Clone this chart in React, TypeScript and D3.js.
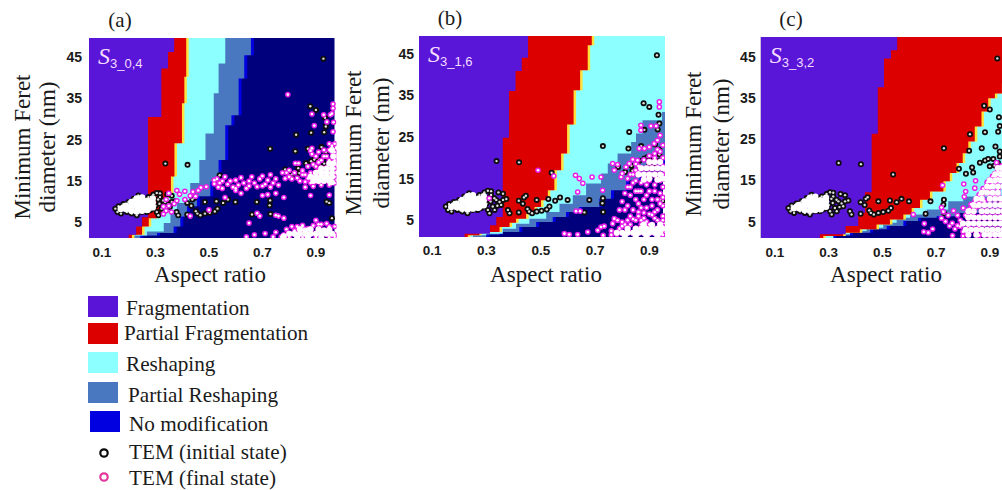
import React from "react";
import * as d3 from "d3";

type P = [number, number];

const C = {
  purple: "#5a14d8", red: "#dc0000", yellow: "#ffe23c", cyan: "#8cffff",
  steel: "#4a78c0", blue: "#0000e0", navy: "#00007c", magenta: "#e81ee8", black: "#0c0c0c",
};
const xTicks = [0.1, 0.3, 0.5, 0.7, 0.9];
const yTicks = [5, 15, 25, 35, 45];

// initial state TEM, shared by all three panels [aspect ratio, nm]
const initialPts: P[] = [
  [.928,44.6],[.337,19.2],[.42,18.9],[.54,16.4],[.729,22.8],[.826,26.2],[.823,22.2],[.879,33.1],[.9,32.2],[.934,30.3],
  [.882,26.7],[.937,28.2],[.931,26.8],[.87,22.8],[.921,23.2],[.937,22],[.785,17.8],[.811,16.6],[.834,18.1],[.838,16.9],
  [.863,19.3],[.882,19.8],[.894,20.2],[.913,20.2],[.937,20.8],[.9,18.4],[.918,18.6],[.931,19.2],[.96,6],[.94,10],[.95,9.7],
  [.679,9.9],[.729,10.3],[.727,9.1],[.661,6.9],[.73,7],[.485,9.9],[.528,10.1],[.553,9.7],[.571,10.5],[.599,9.9],
  [.419,6.9],[.419,9.7],[.434,9],[.438,10.5],[.445,10.9],[.451,7.7],[.457,7.1],[.468,6.7],[.485,7.1],[.503,7.3],[.522,7.6],[.532,8.3],
  [.385,6.7],[.379,7.5],[.373,10.1],[.361,9.9],[.344,11.7],[.361,11.4],[.348,9.4],[.354,8.7],[.336,9.9],[.317,12],[.305,12.1],
  [.292,11.7],[.274,11.1],[.317,11.1],[.329,10.3],[.315,9.5],[.323,8.3],[.311,6.7],[.305,7.5],[.292,8.3],[.274,9.1],[.28,7.9],
  [.286,10.3],[.255,10.7],[.236,11.5],[.218,10.7],[.199,9.9],[.18,9.4],[.162,8.9],[.15,8.3],[.158,7.5],[.171,7.1],[.193,7.5],
  [.211,7.1],[.23,6.7],[.249,7.5],[.267,7.5],[.3,9],[.31,10.5],[.34,8.5],[.33,7.5],
];
const initialCore: P[] = [
  [.17,8.2],[.19,8.2],[.19,9],[.21,7.8],[.21,8.8],[.21,9.9],[.23,7.6],[.23,8.8],[.23,10],[.23,10.8],[.25,7.8],[.25,9],
  [.25,10.2],[.25,11],[.27,8],[.27,9.2],[.27,10.2],[.29,8.6],[.29,9.8],[.29,10.8],[.18,8.6],[.2,8.4],[.22,9.4],[.24,8.4],[.24,9.6],[.26,8.6],[.26,9.8],[.28,9.2],
];

// panel (a): stepped class limits [nm at top of step, aspect ratio]
const aPurple: P[] = [[49.6,.37],[46.2,.347],[42.2,.322],[30.5,.272],[6.2,.25],[4,.228],[2,.2]];
const aRed: P[] = [[49.6,.415],[40.2,.408],[33.8,.399],[24.1,.371],[16.1,.358],[12,.34],[7.2,.306],[6,.275],[4,.25],[2,.212]];
const aCyan: P[] = [[49.6,.561],[43.4,.536],[36.2,.518],[26.5,.487],[20.1,.464],[14.5,.43],[9.7,.38],[7.2,.356],[4.8,.331],[2.8,.268],[1.8,.218]];
const aSteel: P[] = [[49.6,.657],[45.4,.632],[39.8,.611],[30.9,.584],[28.5,.561],[20.1,.536],[14.9,.505],[11.3,.455],[8.9,.418],[6.4,.393],[4,.368],[2.4,.306],[1.8,.243]];
const aFinal: P[] = [
  [.795,35.9],[.964,33.6],[.964,32.6],[.96,31.3],[.885,31.2],[.929,31],[.954,31],[.941,29.3],[.966,29.2],[.894,28.4],[.964,26.9],
  [.823,19.3],[.835,19.3],[.885,21.5],[.885,22.9],[.33,7],[.34,7.8],[.33,8.8],[.35,9],[.36,7.5],[.34,10.5],[.37,9.5],[.38,10.2],
  [.35,12],[.38,12.7],[.39,11.8],[.41,12.5],[.43,11.4],[.44,12.4],[.46,12.7],[.47,13.4],[.45,11.3],[.49,13.6],[.41,10.5],[.43,6.5],[.5,8],
  [.52,14.3],[.53,15.5],[.535,13.5],[.55,15],[.55,13.2],[.56,16],[.57,14.2],[.58,15],[.59,13.5],[.6,15.2],[.61,14],[.62,15.8],[.63,14.5],
  [.64,13.2],[.65,15],[.66,16],[.67,14.5],[.68,13.6],[.69,15.5],[.7,16.2],[.71,14.2],[.72,15.2],[.73,16.5],[.74,14.5],[.75,15.5],[.76,14],
  [.79,17],[.8,16],[.81,15.5],[.82,17],[.83,15.7],[.84,15],[.85,16.5],[.86,14.8],[.87,15.6],[.88,17],[.89,16],[.9,14.8],[.91,17.5],
  [.785,15.6],[.775,17],[.8,17.6],[.54,14.5],[.52,15.2],[.6,13.2],[.65,13.8],[.7,13.8],[.73,13.5],[.86,16.5],[.88,14.5],
  [.56,11],[.6,12.7],[.62,12],[.7,11.5],[.72,11.7],[.75,12],[.78,11],[.88,11.5],[.95,11.6],[.69,6.5],[.68,7.2],[.75,6.7],[.76,6.5],[.78,6],
  [.65,4.8],[.64,1.5],[.67,2],[.71,2.3],[.85,4.3],[.9,5.5],[.91,4.5],[.94,4.7],
  [.97,24],[.97,22],[.97,20],[.97,18],[.97,16],[.97,14.5],[.95,22.5],[.94,21],[.92,20],[.9,21],[.88,22.3],[.96,23.5],[.93,18],[.9,18.5],
  [.85,17.5],[.87,18.5],[.89,19],[.91,19.5],[.93,21],[.95,20],[.95,24],[.96,22],[.93,22.5],[.91,22],[.86,13.5],[.89,13.7],[.92,14],[.95,14],
  [.74,1.5],[.75,2.6],[.77,1.5],[.78,2],[.8,1.4],[.79,3.3],[.81,4],[.82,3],[.83,4],[.85,4],[.87,3.5],[.89,4.2],[.92,4.5],[.95,4],[.97,4],[.97,2],[.97,1.5],[.85,1.4],[.9,1.4],[.95,1.4],
];
const aCore: P[] = [
  [.95,19.2],[.965,19.2],[.92,18],[.94,18],[.96,18],[.9,17],[.92,17],[.94,17],[.96,17],[.88,16],[.9,16],[.92,16],[.94,16],[.96,16],[.89,15],[.91,15],[.93,15],[.95,15],[.965,21],[.96,22.5],[.96,14.7],
  [.84,3.3],[.88,3.3],[.91,3.3],[.95,3.2],[.8,2.2],[.82,2.2],[.84,2.2],[.86,2.2],[.88,2.2],[.9,2.2],[.92,2.2],[.94,2.2],[.96,2.2],[.86,3],[.93,3],[.78,1.6],[.83,1.5],[.87,1.5],[.92,1.5],
];

// panel (b)
const bPurple: P[] = [[49.6,.453],[44,.43],[40.8,.407],[36,.383],[24.8,.36],[5.8,.336],[3.8,.313],[1.8,.219]];
const bRed: P[] = [[49.6,.688],[47,.673],[41,.645],[36.2,.621],[28,.597],[21,.575],[17,.55],[12.2,.526],[9.8,.501],[8.2,.477],[6.6,.446],[5.4,.409],[4.4,.385],[3.4,.348],[2.2,.274],[1.4,.231]];
const bCyan: P[] = [[49.6,.99],[31,.947],[29,.875],[25.8,.851],[23.8,.833],[21,.783],[18.6,.747],[16.2,.722],[13.8,.667],[11,.618],[9,.569],[7,.52],[5.4,.458],[4.2,.409],[3,.36],[1.8,.299],[1.4,.25]];
const bSteel: P[] = [[49.6,.99],[19.4,.947],[17,.863],[14.6,.814],[12.2,.759],[10.2,.716],[8.2,.642],[7,.593],[5.8,.544],[4.6,.483],[3.4,.421],[2.2,.348],[1.6,.299]];
const bFinal: P[] = [
  [.49,17],[.548,15.6],[.628,15.8],[.642,15],[.655,13.9],[.689,15.4],[.722,15.4],[.728,12.2],[.636,11.8],[.63,7.2],[.645,7.2],[.587,1.8],[.605,1.6],[.636,1.6],
  [.673,2.2],[.71,2.6],[.722,3.4],[.734,3.6],[.765,4.2],[.771,5.4],[.783,5],[.8,4.6],[.869,27.8],[.869,26.6],[.906,27.6],[.925,27.6],[.94,25.4],[.937,33.4],[.937,32.2],
  [.93,24.2],[.863,22.2],[.882,22.2],[.9,22.6],[.918,23.4],[.765,18.6],[.783,18.4],[.771,17],[.839,19.6],[.857,19.4],[.826,18.6],[.814,17.8],[.8,16.2],[.796,15.4],[.82,13],
  [.31,10.3],[.83,11],[.8,9.5],[.82,8.5],[.79,7.5],[.81,7.5],[.84,7.5],[.86,9],[.87,12],[.85,10],[.88,10],[.9,12],[.92,12],[.94,11.5],[.95,13],[.89,8],[.91,8.5],[.93,7.5],[.95,8.5],
  [.83,6],[.86,6],[.88,5.5],[.9,6.5],[.92,5.5],[.95,6],[.85,5],[.81,4],[.83,4],[.76,2.5],[.78,1.6],[.79,3],[.73,1.4],[.82,15],[.84,14],[.83,16],[.85,17],[.86,12],
  [.85,14.5],[.87,14],[.89,13.5],[.9,14.5],[.92,13.5],[.94,14.5],[.95,16],[.95,18],[.95,20],[.94,21.5],[.92,21],[.85,18.5],[.84,16],[.95,5],[.95,3.5],[.95,1.5],[.9,4],[.87,4],
  [.83,13],[.81,11.5],[.85,12],[.89,11],[.91,10],[.93,10],[.95,10.5],[.87,8],[.92,7],[.86,7],[.94,9],[.88,6.8],[.82,5],[.84,5.3],[.87,5],[.89,4.7],[.91,6.3],[.93,5],
  [.8,3.6],[.76,1.5],[.92,20],[.9,20.5],[.88,19.5],[.86,18],[.86,16.5],[.93,22],[.95,23],
];
const bCore: P[] = [
  [.9,19],[.92,19],[.94,19],[.87,17.5],[.89,17.5],[.91,17.5],[.93,17.5],[.95,17.5],[.86,16],[.88,16],[.9,16],[.92,16],[.94,16],[.88,14.7],[.9,15],[.93,14.7],[.95,15],
  [.88,4],[.91,3.9],[.94,4],[.82,3],[.85,3],[.87,3],[.89,3],[.91,3],[.93,3],[.95,3],[.78,2],[.8,2],[.82,2],[.84,2],[.86,2],[.88,2],[.9,2],[.92,2],[.94,2],[.81,1.3],[.85,1.3],[.89,1.3],[.93,1.3],
];

// panel (c)
const cPurple: P[] = [[49.8,.555],[46.6,.532],[44.6,.506],[37.6,.483],[26.3,.46],[12.1,.435],[7.1,.41],[3.9,.363],[1.9,.267]];
const cRed: P[] = [[49.8,.99],[38.5,.945],[36.1,.919],[34.9,.894],[31.7,.869],[28.1,.844],[24.4,.82],[21.6,.799],[19.2,.776],[16.8,.751],[14.8,.727],[12.3,.677],[10.3,.64],[8.3,.609],[6.7,.578],[5.5,.528],[4.3,.478],[3.1,.416],[2.3,.354],[1.5,.28]];
const cCyan: P[] = [[49.8,.99],[13,.945],[11.1,.801],[9.9,.745],[7.9,.665],[6.7,.603],[5.9,.553],[4.7,.503],[3.5,.441],[2.7,.379],[1.9,.317]];
const cSteel: P[] = [[49.8,.99],[7.1,.776],[6.3,.702],[5.9,.633],[5.1,.578],[3.9,.516],[3.1,.454],[2.3,.379],[1.6,.317]];
const cFinal: P[] = [
  [.724,13.8],[.803,14.1],[.847,14.9],[.844,13.1],[.81,12.3],[.805,11],[.83,9.2],[.801,8.3],[.615,6.7],[.656,4.5],[.654,2.5],[.671,2.3],[.687,3.2],[.761,1.6],
  [.72,8.4],[.727,7.4],[.72,5.8],[.735,5],[.745,6.5],[.765,7.6],[.78,6.5],[.79,5.3],[.75,3.9],[.77,3.2],[.8,2.5],[.76,4.6],[.78,4],[.82,4],[.83,6.5],[.85,8.5],[.82,1.8],
  [.86,9.5],[.87,11],[.88,12.5],[.9,13],[.91,14.5],[.93,15.5],[.94,17],[.93,13],[.85,6],[.84,3],[.86,1.6],[.9,1.4],[.94,1.4],[.86,4],[.88,7.5],[.9,9],[.92,11],[.96,14],
  [.925,19.3],[.945,18.5],[.93,17.2],[.91,16],[.89,14.5],[.875,13],[.86,11.5],[.845,10],[.825,8],[.81,6.5],[.79,3.8],[.8,1.5],[.9,12],[.92,14.5],[.945,16],[.88,10],
];
const cCore: P[] = [
  [.93,18],[.945,18],[.92,16.5],[.94,16.5],[.9,15],[.92,15],[.94,15],[.89,13.5],[.91,13.5],[.93,13.5],[.95,13.5],[.87,12],[.89,12],[.91,12],[.93,12],
  [.85,10.5],[.87,10.5],[.9,10.5],[.92,10.5],[.94,10.5],[.84,9],[.86,9],[.88,9],[.9,9],[.92,9],[.94,9],
  [.82,7.5],[.84,7.5],[.87,7.5],[.89,7.5],[.91,7.5],[.93,7.5],[.95,7.5],[.82,6],[.84,6],[.86,6],[.88,6],[.9,6],[.92,6],[.94,6],
  [.8,4.5],[.82,4.5],[.84,4.5],[.86,4.5],[.88,4.5],[.9,4.5],[.92,4.5],[.94,4.5],[.81,3],[.83,3],[.85,3],[.87,3],[.89,3],[.91,3],[.93,3],[.95,3],
  [.82,1.8],[.85,1.8],[.88,1.8],[.9,1.8],[.92,1.8],[.94,1.8],
];

interface Cfg {
  tag: string; sub: string; tagX: number; tagY: number;
  px: [number, number]; py: [number, number];
  xd: [number, number]; yd: [number, number];
  purple: P[]; red: P[]; cyan: P[]; steel: P[]; final: P[]; core: P[];
  xLabelX: number; yT1: number; yT2: number; yMid: number; xLabelY: number; tickY: number; yGap: number;
}
const panels: Cfg[] = [
  { tag: "(a)", sub: "3_0,4", tagX: 120, tagY: 27, px: [89, 334.5], py: [38, 238], xd: [.0515, .9695], yd: [1.2, 49.6],
    purple: aPurple, red: aRed, cyan: aCyan, steel: aSteel, final: aFinal, core: aCore, xLabelX: 210, yT1: 30, yT2: 55, yMid: 147, xLabelY: 282, tickY: 257, yGap: 7 },
  { tag: "(b)", sub: "3_1,6", tagX: 450, tagY: 25, px: [419, 663], py: [36, 237], xd: [.0512, .9505], yd: [1, 49.2],
    purple: bPurple, red: bRed, cyan: bCyan, steel: bSteel, final: bFinal, core: bCore, xLabelX: 546, yT1: 361, yT2: 389, yMid: 143, xLabelY: 282, tickY: 255, yGap: 5 },
  { tag: "(c)", sub: "3_3,2", tagX: 791, tagY: 26, px: [760.7, 1002], py: [37, 238], xd: [.0467, .9454], yd: [1, 49.8],
    purple: cPurple, red: cRed, cyan: cCyan, steel: cSteel, final: cFinal, core: cCore, xLabelX: 886, yT1: 701, yT2: 729, yMid: 144, xLabelY: 282, tickY: 257, yGap: 5 },
];

const legendSwatches = [
  { label: "Fragmentation", color: C.purple, x: 88, y: 296, tx: 126, ty: 315 },
  { label: "Partial Fragmentation", color: C.red, x: 88, y: 323, tx: 124, ty: 340 },
  { label: "Reshaping", color: C.cyan, x: 88, y: 352, tx: 126, ty: 371 },
  { label: "Partial Reshaping", color: C.steel, x: 88, y: 382, tx: 128, ty: 402 },
  { label: "No modification", color: C.blue, x: 90, y: 411, tx: 129, ty: 431 },
];
const legendMarks = [
  { label: "TEM (initial state)", color: "#0c0c0c", cy: 453, ty: 459 },
  { label: "TEM (final state)", color: "#e0389c", cy: 477, ty: 485 },
];

const serif = "'Liberation Serif', serif";
const sans = "'Liberation Sans', sans-serif";

function Panel({ p, i }: { p: Cfg; i: number }) {
  const x = d3.scaleLinear().domain(p.xd).range(p.px);
  const y = d3.scaleLinear().domain(p.yd).range([p.py[1], p.py[0]]);
  const area = (steps: P[]) =>
    d3.area<P>().x0(p.px[0]).x1((d) => x(d[1])).y((d) => y(d[0])).curve(d3.curveStepBefore)(
      [...steps, [p.yd[0], steps[steps.length - 1][1]] as P]
    ) || "";
  const w = p.px[1] - p.px[0];
  const h = p.py[1] - p.py[0];
  const id = `clip${i}`;
  return (
    <g>
      <clipPath id={id}><rect x={p.px[0]} y={p.py[0]} width={w + 2} height={h} /></clipPath>
      <g filter="url(#soft)">
        <g clipPath={`url(#${id})`}>
          <rect x={p.px[0]} y={p.py[0]} width={w} height={h} fill={C.navy} />
          <path d={area(p.steel)} fill={C.blue} transform="translate(3,0)" />
          <path d={area(p.steel)} fill={C.steel} />
          <path d={area(p.cyan)} fill={C.cyan} />
          <path d={area(p.red)} fill={C.yellow} transform="translate(2.5,0)" />
          <path d={area(p.red)} fill={C.red} />
          <path d={area(p.purple)} fill={C.purple} />
          <g>
            {initialPts.map((d, k) => <circle key={k} cx={x(d[0])} cy={y(d[1])} r={3} fill={C.black} />)}
            {initialPts.map((d, k) => <circle key={k} cx={x(d[0])} cy={y(d[1])} r={1.2} fill="#ddd" />)}
            {initialCore.map((d, k) => <circle key={k} cx={x(d[0])} cy={y(d[1])} r={3.2} fill="#fff" />)}
          </g>
          <g>
            {p.final.map((d, k) => <circle key={k} cx={x(d[0])} cy={y(d[1])} r={2.8} fill={C.magenta} />)}
            {p.core.map((d, k) => <circle key={k} cx={x(d[0])} cy={y(d[1])} r={3.3} fill={C.magenta} />)}
            {p.final.map((d, k) => <circle key={k} cx={x(d[0])} cy={y(d[1])} r={1.3} fill="#fff" />)}
            {p.core.map((d, k) => <circle key={k} cx={x(d[0])} cy={y(d[1])} r={3} fill="#fff" />)}
          </g>
        </g>
      </g>
      {yTicks.map((t) => (
        <text key={t} x={p.px[0] - p.yGap} y={y(t) + 5} textAnchor="end" fontFamily={sans} fontWeight="bold" fontSize={14} fill="#1a1a1a">{t}</text>
      ))}
      {xTicks.map((t) => (
        <text key={t} x={x(t)} y={p.tickY} textAnchor="middle" fontFamily={sans} fontWeight="bold" fontSize={13.5} fill="#1a1a1a">{t.toFixed(1)}</text>
      ))}
      <text x={p.xLabelX} y={p.xLabelY} textAnchor="middle" fontFamily={serif} fontSize={23} fill="#1a1a1a">Aspect ratio</text>
      <text transform={`translate(${p.yT1},${p.yMid}) rotate(-90)`} textAnchor="middle" fontFamily={serif} fontSize={23} fill="#1a1a1a">Minimum Feret</text>
      <text transform={`translate(${p.yT2},${p.yMid}) rotate(-90)`} textAnchor="middle" fontFamily={serif} fontSize={23} fill="#1a1a1a">diameter (nm)</text>
      <text x={p.tagX} y={p.tagY} textAnchor="middle" fontFamily={serif} fontSize={21} fill="#1a1a1a">{p.tag}</text>
      <text x={p.px[0] + 9} y={p.py[0] + 26} fill="#f4dcff" fontFamily={serif}>
        <tspan fontStyle="italic" fontSize={24}>S</tspan>
        <tspan fontSize={13} fontFamily={sans} dy={4}>{p.sub}</tspan>
      </text>
    </g>
  );
}

export default function App() {
  return (
    <svg width={1002} height={490} viewBox="0 0 1002 490" style={{ position: "absolute", left: 0, top: 0, display: "block", background: "#fff" }}>
      <defs>
        <filter id="soft" x="0" y="0" width="100%" height="100%"><feGaussianBlur stdDeviation="0.45" /></filter>
      </defs>
      {panels.map((p, i) => <Panel key={p.tag} p={p} i={i} />)}
      {legendSwatches.map((s) => (
        <g key={s.label}>
          <rect x={s.x} y={s.y} width={30} height={21} fill={s.color} />
          <text x={s.tx} y={s.ty} fontFamily={serif} fontSize={21.2} fill="#1a1a1a">{s.label}</text>
        </g>
      ))}
      {legendMarks.map((m) => (
        <g key={m.label}>
          <circle cx={104} cy={m.cy} r={3.7} fill="#fff" stroke={m.color} strokeWidth={2.2} />
          <text x={129} y={m.ty} fontFamily={serif} fontSize={21.2} fill="#1a1a1a">{m.label}</text>
        </g>
      ))}
    </svg>
  );
}
